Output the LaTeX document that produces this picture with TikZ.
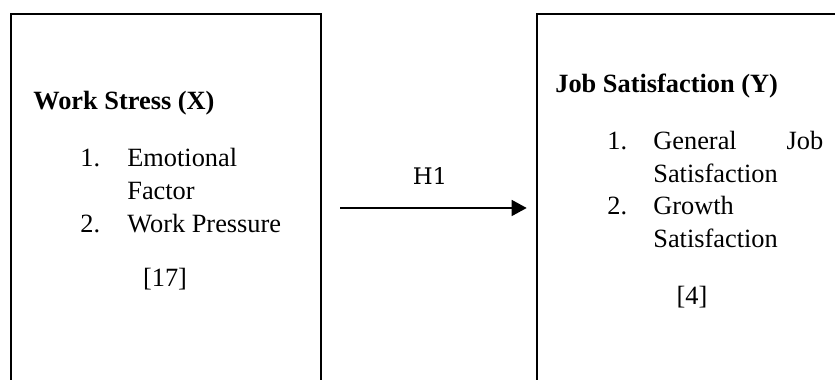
\documentclass[tikz,border=0pt]{standalone}
\usepackage{fontspec}
\setmainfont{Liberation Serif}
\newfontfamily\hfont{DejaVu Serif}
\usetikzlibrary{positioning, calc, arrows.meta}
\tikzset{
    varbox/.style = {draw, line width=1.5pt, minimum width=6.2cm, minimum height=7.76cm, inner sep=0pt},
    txt/.style = {anchor=base west, inner sep=0pt, font=\fontsize{15}{18}\selectfont},
    cite/.style = {anchor=base, inner sep=0pt, font=\fontsize{15}{18}\selectfont},
}

\begin{document}
\begin{tikzpicture}
                \useasboundingbox (0,0) rectangle (16.7,7.6);
                % the two variables
                \node[varbox] (xbox) at (3.32,3.44) {};
                \node[varbox, minimum width=6.46cm] (ybox) at (13.97,3.44) {};
                \draw[-{Triangle[length=0.3cm,width=0.32cm]}, line width=0.9pt, shorten <=0.36cm, shorten >=0.18cm] (xbox.east) -- (ybox.west);
                \node[anchor=base, inner sep=0pt, font=\hfont\fontsize{13}{15}\selectfont] (hyp) at (8.6,3.9) {H1};
                % left box
                \node[txt] (xtitle) at (0.66,5.4) {\bfseries Work Stress (X)};
                \node[txt] (xnum1) at (1.6,4.26) {1.};
                \node[txt] (xitem1) at (2.54,4.26) {Emotional};
                \node[txt] (xitem1b) at (2.54,3.6) {Factor};
                \node[txt] (xnum2) at (1.6,2.94) {2.};
                \node[txt] (xitem2) at (2.54,2.94) {Work Pressure};
                \node[cite] (xref) at (3.3,1.86) {[17]};
                % right box
                \node[txt] (ytitle) at (11.1,5.74) {\bfseries Job Satisfaction (Y)};
                \node[txt] (ynum1) at (12.14,4.6) {1.};
                \node[txt] (yitem1) at (13.06,4.6) {\makebox[3.4cm][s]{General Job}};
                \node[txt] (yitem1b) at (13.06,3.94) {Satisfaction};
                \node[txt] (ynum2) at (12.14,3.3) {2.};
                \node[txt] (yitem2) at (13.06,3.3) {Growth};
                \node[txt] (yitem2b) at (13.06,2.64) {Satisfaction};
                \node[cite] (yref) at (13.84,1.5) {[4]};
            \end{tikzpicture}
\end{document}
